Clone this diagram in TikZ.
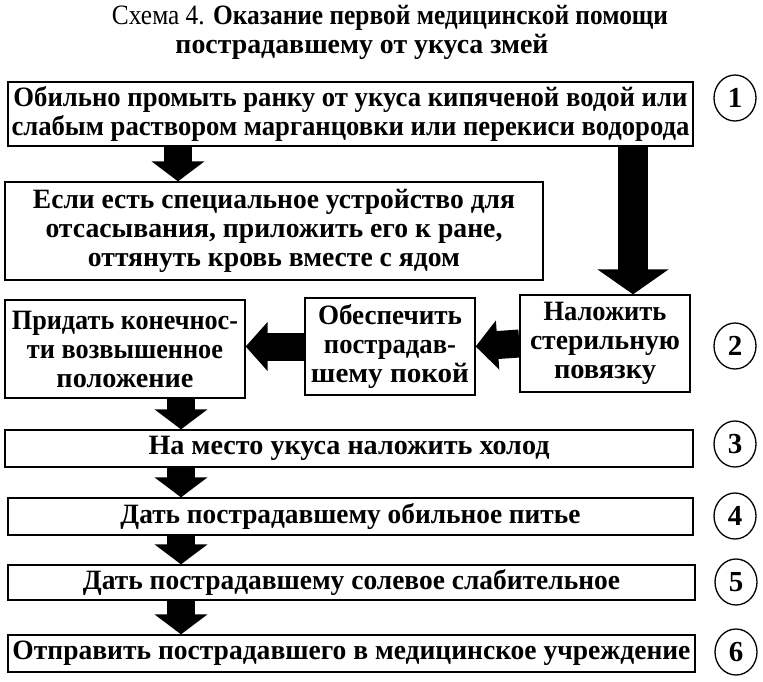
\documentclass[tikz,border=0pt]{standalone}
\usepackage{fontspec}
\setmainfont{Liberation Serif}
\usetikzlibrary{arrows.meta,shapes.geometric}
\newcommand{\lw}[2]{\resizebox{#1pt}{\height}{#2}}
\begin{document}
\begin{tikzpicture}[x=1pt,y=-1pt,
  box/.style={draw, line width=1.3pt, inner sep=0pt, align=center,
    font=\fontsize{28}{29}\selectfont\bfseries},
  num/.style={draw, ellipse, line width=1.3pt, minimum width=42pt, minimum height=46pt,
    inner sep=0pt, font=\fontsize{29}{29}\selectfont\bfseries},
  ttl/.style={inner sep=0pt, font=\fontsize{28}{29}\selectfont},
  fat/.style={line width=28pt, -{Triangle[width=52pt,length=20pt]}},
  fatbig/.style={line width=30pt, -{Triangle[width=70pt,length=25pt]}},
  fath/.style={line width=28pt, -{Triangle[width=48pt,length=22pt]}}]
\useasboundingbox (0,0) rectangle (763,681);
\fill[white] (0,0) rectangle (763,681);

% title
\node[ttl] (t1) at (390,18) {\lw{556}{Схема 4. \textbf{Оказание первой медицинской помощи}}};
\node[ttl] (t2) at (362,47) {\lw{373}{\textbf{пострадавшему от укуса змей}}};

% boxes
\node[box, minimum width=685pt, minimum height=64pt] (b1) at (350.5,114)
  {\lw{674}{Обильно промыть ранку от укуса кипяченой водой или}\\
   \lw{678}{слабым раствором марганцовки или перекиси водорода}};
\node[box, minimum width=538pt, minimum height=98pt] (b2) at (274,231)
  {\lw{482}{Если есть специальное устройство для}\\
   \lw{457}{отсасывания, приложить его к ране,}\\
   \lw{372}{оттянуть кровь вместе с ядом}};
\node[box, minimum width=240pt, minimum height=98pt] (bA) at (125,349)
  {\lw{226}{Придать конечнос-}\\
   \lw{196}{ти возвышенное}\\
   \lw{137}{положение}};
\node[box, minimum width=170pt, minimum height=97pt] (bB) at (390,346.5)
  {\lw{144}{Обеспечить}\\
   \lw{132}{пострадав-}\\
   \lw{158}{шему покой}};
\node[box, minimum width=170pt, minimum height=97pt] (bC) at (605,343.5)
  {\lw{123}{Наложить}\\
   \lw{150}{стерильную}\\
   \lw{102}{повязку}};
\node[box, minimum width=688pt, minimum height=37pt] (b3) at (349,448.5)
  {\lw{401}{На место укуса наложить холод}};
\node[box, minimum width=685pt, minimum height=37pt] (b4) at (350.5,516.5)
  {\lw{460}{Дать пострадавшему обильное питье}};
\node[box, minimum width=687pt, minimum height=35pt] (b5) at (351.5,582.5)
  {\lw{537}{Дать пострадавшему солевое слабительное}};
\node[box, minimum width=687pt, minimum height=37pt] (b6) at (351.5,653.5)
  {\lw{678}{Отправить пострадавшего в медицинское учреждение}};

% numbers
\node[num] (c1) at (735,98) {1};
\node[num] (c2) at (735,346) {2};
\node[num] (c3) at (735,444) {3};
\node[num] (c4) at (735,516) {4};
\node[num] (c5) at (736,582) {5};
\node[num] (c6) at (736,652) {6};

% arrows
\coordinate (xl) at (178,0);
\coordinate (xr) at (633,0);
\coordinate (xd) at (181,0);
\draw[fat] (b1.south -| xl) -- (b2.north -| xl);
\draw[fatbig] (b1.south -| xr) -- (bC.north -| xr);
\draw[fath] (bC.west) -- (bB.east);
\draw[fath] (bB.west) -- (bA.east |- bB.west);
\draw[fat] (bA.south -| xd) -- (b3.north -| xd);
\draw[fat] (b3.south -| xd) -- (b4.north -| xd);
\draw[fat] (b4.south -| xd) -- (b5.north -| xd);
\draw[fat] (b5.south -| xd) -- (b6.north -| xd);
\end{tikzpicture}
\end{document}
